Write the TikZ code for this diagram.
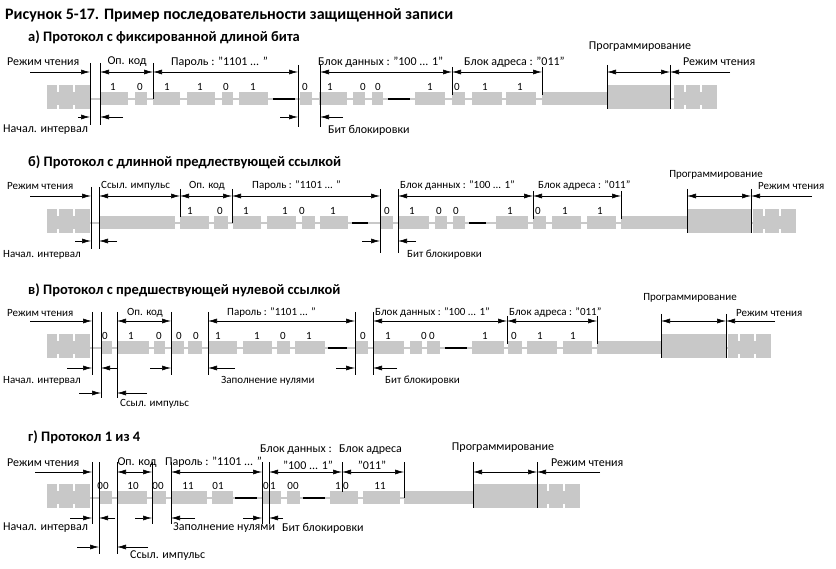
\documentclass[tikz,border=0pt]{standalone}
\usepackage{fontspec}
\setmainfont{Carlito}
\usetikzlibrary{arrows.meta,calc}
\definecolor{bitgray}{RGB}{200,200,200}
\tikzset{
  wire/.style={bitgray,line width=2pt},
  dim/.style={line width=0.6pt,{Latex[length=9pt,width=5pt]}-{Latex[length=9pt,width=5pt]}},
  rarr/.style={line width=0.6pt,-{Latex[length=9pt,width=5pt]}},
  vline/.style={line width=0.6pt},
  lbl/.style={font=\fontsize{12}{13}\selectfont,inner sep=0pt},
  nlbl/.style={font=\fontsize{11}{12}\selectfont,inner sep=0pt},
  digit/.style={font=\fontsize{11}{12}\selectfont,inner sep=0pt},
  rowtitle/.style={font=\bfseries\fontsize{14.5}{16}\selectfont,inner sep=0pt,anchor=west}
}
% short block, tall block, read blocks, black dash
\newcommand{\sblk}[2]{\fill[bitgray] (#1,-7) rectangle (#2,6);}
\newcommand{\tblk}[2]{\fill[bitgray] (#1,-14) rectangle (#2,10);}
\newcommand{\rdblk}[1]{%
  \fill[bitgray] (#1,-7) rectangle ++(43,13);
  \fill[bitgray] (#1,-14) rectangle ++(10,24);
  \fill[bitgray] ($(#1,-14)+(12,0)$) rectangle ++(14,24);
  \fill[bitgray] ($(#1,-14)+(28,0)$) rectangle ++(15,24);}
\newcommand{\dsh}[2]{\draw[line width=2pt] (#1,0) -- (#2,0);}
\newcommand{\vl}[3]{\draw[vline] (#1,#2) -- (#1,#3);}
\begin{document}
\begin{tikzpicture}[x=1pt,y=-1pt]
\useasboundingbox (0,0) rectangle (836,569);
\node[rowtitle,font=\bfseries\fontsize{16}{18}\selectfont] (title) at (5,15) {Рисунок 5-17. Пример последовательности защищенной записи};

% a) fixed bit length
\node[rowtitle] (ta) at (28,37) {а) Протокол с фиксированной длиной бита};
\begin{scope}[shift={(0,99)}]
  \draw[wire] (47,0) -- (700,0);
  \rdblk{47}
  \sblk{100}{128}\sblk{135}{147}\sblk{153}{180}\sblk{187}{215}\sblk{222}{233}\sblk{239}{268}
  \dsh{273}{295}\sblk{300}{312}
  \sblk{319}{347}\sblk{353}{365}\sblk{372}{383}\dsh{388}{410}\sblk{415}{445}
  \sblk{452}{465}\sblk{472}{502}\sblk{506}{536}\sblk{542}{607}\tblk{607}{670}
  \rdblk{674}
  \foreach \x/\d in {113/1,140/0,167/1,200/1,226/0,253/1,305/0,330/1,363/0,378/0,430/1,457/0,485/1,520/1}
    \node[digit] at (\x,-12) {\d};
  \vl{90}{-36}{26}\vl{100}{-36}{26}\vl{153}{-36}{0}\vl{298}{-34}{28}\vl{320}{-34}{28}
  \vl{452}{-32}{-4}\vl{542}{-32}{-4}\vl{607}{-34}{10}\vl{670}{-34}{10}
  \draw[rarr] (30,-27) -- (90,-27);
  \draw[dim] (100,-27) -- (153,-27);
  \draw[dim] (153,-27) -- (298,-27);
  \draw[dim] (320,-27) -- (452,-27);
  \draw[dim] (452,-27) -- (542,-27);
  \draw[dim] (607,-27) -- (670,-27);
  \draw[rarr] (730,-27) -- (670,-27);
  \draw[rarr] (78,18) -- (90,18);
  \draw[rarr] (123,18) -- (100,18);
  \draw[rarr] (280,18) -- (298,18);
  \draw[rarr] (343,18) -- (320,18);
  \node[lbl,anchor=west] (ar1) at (7,-37) {Режим чтения};
  \node[lbl] (aop) at (127,-37) {Оп. код};
  \node[lbl,anchor=west] (apw) at (171,-37) {Пароль : "1101 ... "};
  \node[lbl,anchor=west] (adt) at (318,-37) {Блок данных : "100 ... 1"};
  \node[lbl,anchor=west] (aad) at (464,-37) {Блок адреса : "011"};
  \node[lbl] (apr) at (640,-52) {Программирование};
  \node[lbl,anchor=west] (ar2) at (683,-37) {Режим чтения};
  \node[lbl,anchor=west] (ain) at (3,31) {Начал. интервал};
  \node[lbl,anchor=west] (alk) at (328,31) {Бит блокировки};
\end{scope}

% b) long leading reference
\node[rowtitle] (tb) at (28,162) {б) Протокол с длинной предлествующей ссылкой};
\begin{scope}[shift={(0,223)}]
  \draw[wire] (47,0) -- (789,0);
  \rdblk{47}
  \sblk{100}{175}\sblk{180}{209}\sblk{214}{228}
  \sblk{233}{261}\sblk{267}{296}\sblk{302}{315}\sblk{320}{348}\dsh{352}{368}\sblk{380}{393}
  \sblk{398}{429}\sblk{435}{447}\sblk{453}{465}\dsh{469}{486}\sblk{496}{528}
  \sblk{533}{546}\sblk{552}{581}\sblk{587}{616}\sblk{621}{687}\tblk{687}{751}
  \rdblk{753}
  \foreach \x/\d in {190/1,220/0,246/1,285/1,302/0,333/1,387/0,412/1,439/0,456/0,510/1,538/0,565/1,600/1}
    \node[digit] at (\x,-12) {\d};
  \vl{91}{-36}{26}\vl{99}{-36}{26}\vl{180}{-34}{-6}\vl{232}{-34}{0}\vl{380}{-34}{30}\vl{398}{-34}{30}
  \vl{533}{-32}{-4}\vl{621}{-32}{-4}\vl{687}{-34}{10}\vl{751}{-34}{10}
  \draw[rarr] (30,-27) -- (91,-27);
  \draw[dim] (99,-27) -- (180,-27);
  \draw[dim] (180,-27) -- (232,-27);
  \draw[dim] (232,-27) -- (380,-27);
  \draw[dim] (398,-27) -- (533,-27);
  \draw[dim] (533,-27) -- (621,-27);
  \draw[dim] (687,-27) -- (751,-27);
  \draw[rarr] (812,-27) -- (751,-27);
  \draw[rarr] (75,18) -- (91,18);
  \draw[rarr] (117,18) -- (99,18);
  \draw[rarr] (362,18) -- (380,18);
  \draw[rarr] (416,18) -- (398,18);
  \node[nlbl,anchor=west] (br1) at (7,-37) {Режим чтения};
  \node[nlbl,anchor=west] (bref) at (101,-37) {Ссыл. импульс};
  \node[nlbl] (bop) at (207,-37) {Оп. код};
  \node[nlbl,anchor=west] (bpw) at (252,-37) {Пароль : "1101 ... "};
  \node[nlbl,anchor=west] (bdt) at (400,-37) {Блок данных : "100 ... 1"};
  \node[nlbl,anchor=west] (bad) at (538,-37) {Блок адреса : "011"};
  \node[nlbl] (bpr) at (716,-48) {Программирование};
  \node[nlbl,anchor=west] (br2) at (758,-37) {Режим чтения};
  \node[nlbl,anchor=west] (bin) at (3,32) {Начал. интервал};
  \node[nlbl,anchor=west] (blk) at (407,32) {Бит блокировки};
\end{scope}

% v) leading zero reference
\node[rowtitle] (tv) at (28,290) {в) Протокол с предшествующей нулевой ссылкой};
\begin{scope}[shift={(0,348)}]
  \draw[wire] (47,0) -- (767,0);
  \rdblk{47}
  \sblk{101}{112}\sblk{118}{149}\sblk{154}{165}\sblk{171}{184}\sblk{188}{202}
  \sblk{208}{237}\sblk{243}{272}\sblk{277}{290}\sblk{295}{325}\dsh{328}{347}\sblk{356}{368}
  \sblk{373}{404}\sblk{410}{422}\sblk{427}{440}\dsh{445}{467}\sblk{472}{504}
  \sblk{508}{522}\sblk{527}{557}\sblk{563}{592}\sblk{597}{661}\tblk{661}{726}
  \rdblk{728}
  \foreach \x/\d in {105/0,131/1,159/0,179/0,196/0,218/1,257/1,283/0,309/1,363/0,388/1,424/0,432/0,485/1,514/0,540/1,573/1}
    \node[digit] at (\x,-12) {\d};
  \vl{92}{-36}{27}\vl{101}{-36}{50}\vl{117}{-36}{50}\vl{171}{-36}{27}\vl{208}{-36}{27}
  \vl{355}{-36}{27}\vl{373}{-36}{27}\vl{507}{-32}{-4}\vl{597}{-32}{-4}\vl{661}{-34}{10}\vl{726}{-34}{10}
  \draw[rarr] (30,-27) -- (92,-27);
  \draw[dim] (117,-27) -- (171,-27);
  \draw[dim] (208,-27) -- (355,-27);
  \draw[dim] (373,-27) -- (507,-27);
  \draw[dim] (507,-27) -- (597,-27);
  \draw[dim] (661,-27) -- (726,-27);
  \draw[rarr] (775,-27) -- (726,-27);
  \draw[rarr] (67,20) -- (92,20);
  \draw[rarr] (117,20) -- (101,20);
  \draw[rarr] (150,20) -- (171,20);
  \draw[rarr] (235,20) -- (208,20);
  \draw[rarr] (336,20) -- (355,20);
  \draw[rarr] (397,20) -- (373,20);
  \draw[rarr] (79,45) -- (101,45);
  \draw[rarr] (147,45) -- (117,45);
  \node[nlbl,anchor=west] (vr1) at (7,-35) {Режим чтения};
  \node[nlbl] (vop) at (145,-35) {Оп. код};
  \node[nlbl,anchor=west] (vpw) at (227,-35) {Пароль : "1101 ... "};
  \node[nlbl,anchor=west] (vdt) at (375,-35) {Блок данных : "100 ... 1"};
  \node[nlbl,anchor=west] (vad) at (509,-35) {Блок адреса : "011"};
  \node[nlbl] (vpr) at (690,-50) {Программирование};
  \node[nlbl,anchor=west] (vr2) at (736,-35) {Режим чтения};
  \node[nlbl,anchor=west] (vin) at (3,33) {Начал. интервал};
  \node[nlbl,anchor=west] (vzf) at (221,33) {Заполнение нулями};
  \node[nlbl,anchor=west] (vlk) at (385,33) {Бит блокировки};
  \node[nlbl,anchor=west] (vref) at (120,56) {Ссыл. импульс};
\end{scope}

% g) 1 of 4
\node[rowtitle] (tg) at (28,437) {г) Протокол 1 из 4};
\begin{scope}[shift={(0,498)}]
  \draw[wire] (47,0) -- (577,0);
  \rdblk{47}
  \sblk{99}{112}\sblk{117}{147}\sblk{152}{166}\sblk{171}{207}\sblk{212}{233}\dsh{235}{257}
  \sblk{262}{281}\sblk{287}{300}\dsh{303}{325}\sblk{330}{358}\sblk{363}{400}
  \sblk{404}{473}\tblk{473}{537}
  \rdblk{537}
  \foreach \x/\d in {103/00,133/10,158/00,188/11,218/01,266/0,273/1,293/00,338/1,346/0,380/11}
    \node[digit] at (\x,-12) {\d};
  \vl{92}{-36}{26}\vl{99}{-36}{56}\vl{117}{-36}{56}\vl{152}{-36}{26}\vl{171}{-36}{26}
  \vl{262}{-36}{26}\vl{269}{-36}{26}\vl{342}{-36}{-6}\vl{404}{-36}{0}\vl{473}{-36}{10}\vl{537}{-36}{10}
  \draw[rarr] (35,-26) -- (92,-26);
  \draw[dim] (117,-26) -- (152,-26);
  \draw[dim] (171,-26) -- (262,-26);
  \draw[dim] (269,-26) -- (342,-26);
  \draw[dim] (342,-26) -- (404,-26);
  \draw[dim] (473,-26) -- (537,-26);
  \draw[rarr] (600,-26) -- (537,-26);
  \draw[rarr] (70,20) -- (92,20);
  \draw[rarr] (115,20) -- (99,20);
  \draw[rarr] (135,20) -- (152,20);
  \draw[rarr] (195,20) -- (171,20);
  \draw[rarr] (243,20) -- (262,20);
  \draw[rarr] (283,20) -- (269,20);
  \draw[rarr] (77,49) -- (99,49);
  \draw[rarr] (148,49) -- (117,49);
  \node[lbl,anchor=west] (gr1) at (7,-35) {Режим чтения};
  \node[lbl] (gop) at (137,-35) {Оп. код};
  \node[lbl,anchor=west] (gpw) at (165,-36) {Пароль : "1101 ... "};
  \node[lbl,anchor=west] (gdt) at (260,-48) {Блок данных :};
  \node[lbl] (gdv) at (308,-33) {"100 ... 1"};
  \node[lbl,anchor=west] (gad) at (339,-48) {Блок адреса};
  \node[lbl] (gav) at (372,-33) {"011"};
  \node[lbl] (gpr) at (503,-50) {Программирование};
  \node[lbl,anchor=west] (gr2) at (551,-35) {Режим чтения};
  \node[lbl,anchor=west] (gin) at (3,30) {Начал. интервал};
  \node[lbl,anchor=west] (gzf) at (173,30) {Заполнение нулями};
  \node[lbl,anchor=west] (glk) at (282,30) {Бит блокировки};
  \node[lbl,anchor=west] (gref) at (130,58) {Ссыл. импульс};
\end{scope}
\end{tikzpicture}
\end{document}
